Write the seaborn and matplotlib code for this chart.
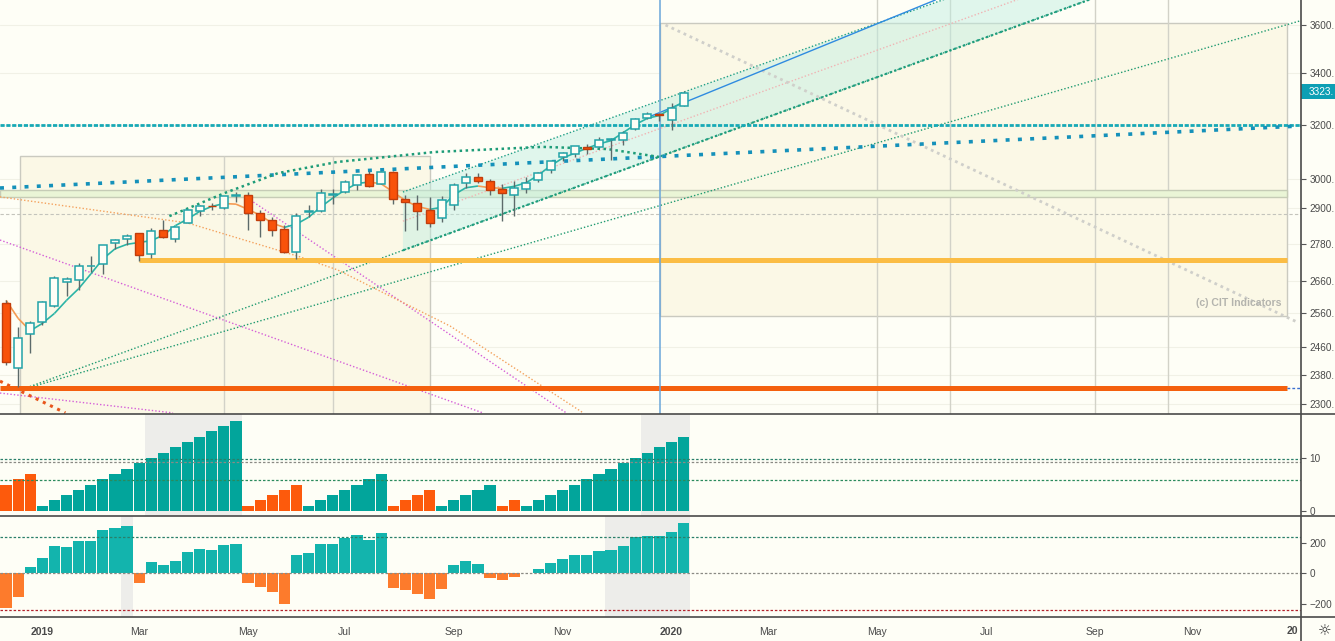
import numpy as np
import pandas as pd
import matplotlib
matplotlib.use("Agg")
import matplotlib.pyplot as plt
from matplotlib.patches import Rectangle, Polygon
from matplotlib.lines import Line2D
from matplotlib.collections import LineCollection
import seaborn as sns

# weekly candles, first bar = week of 2018-12-17, last = week of 2020-01-13
opens = [2590.8, 2400.6, 2498.9, 2535.6, 2582.1, 2657.4, 2663.2, 2706.0, 2712.4, 2780.7,
         2796.0, 2814.4, 2747.6, 2826.1, 2796.0, 2848.6, 2888.3, 2908.3, 2898.8, 2940.6,
         2945.0, 2881.0, 2859.5, 2830.0, 2751.5, 2885.8, 2889.8, 2944.0, 2955.0, 2979.8,
         3018.8, 2982.6, 3024.5, 2932.0, 2918.0, 2893.0, 2866.7, 2909.0, 2988.4, 3007.4,
         2992.0, 2967.0, 2944.2, 2965.8, 2996.5, 3032.1, 3079.0, 3089.3, 3117.9, 3117.4,
         3143.9, 3141.9, 3183.6, 3226.1, 3240.1, 3217.6, 3271.1]
highs = [2601.1, 2520.3, 2538.1, 2597.8, 2675.5, 2672.4, 2718.0, 2739.0, 2775.7, 2795.0,
         2813.5, 2816.9, 2830.7, 2860.3, 2836.0, 2893.4, 2910.5, 2916.1, 2940.0, 2954.1,
         2954.0, 2892.0, 2868.0, 2843.0, 2884.0, 2910.6, 2964.2, 2964.5, 2995.8, 3017.8,
         3028.0, 3028.0, 3028.0, 2945.5, 2943.3, 2939.1, 2940.4, 2985.9, 3022.0, 3022.6,
         2999.2, 2983.9, 2993.3, 3008.3, 3027.4, 3067.0, 3097.8, 3120.5, 3127.6, 3154.3,
         3150.6, 3176.3, 3225.7, 3247.9, 3244.7, 3283.0, 3329.9]
lows = [2408.6, 2346.6, 2444.0, 2524.6, 2580.3, 2612.9, 2631.0, 2687.0, 2681.8, 2764.0,
        2775.1, 2722.3, 2732.5, 2800.3, 2785.0, 2848.6, 2873.2, 2893.0, 2898.0, 2919.1,
        2825.4, 2801.4, 2805.5, 2750.5, 2728.8, 2868.8, 2887.3, 2912.0, 2952.0, 2963.4,
        2973.0, 2982.0, 2914.7, 2822.1, 2825.7, 2835.0, 2853.1, 2891.9, 2969.4, 2985.0,
        2946.0, 2855.9, 2873.3, 2952.9, 2991.2, 3023.2, 3065.9, 3078.8, 3091.4, 3113.9,
        3070.3, 3123.0, 3180.0, 3222.4, 3212.0, 3181.1, 3270.6]
closes = [2416.6, 2485.7, 2531.9, 2596.3, 2670.7, 2664.8, 2706.5, 2708.0, 2775.6, 2792.7,
          2804.0, 2743.1, 2822.5, 2800.7, 2834.4, 2892.7, 2907.4, 2905.0, 2939.9, 2945.6,
          2881.0, 2859.5, 2826.1, 2752.1, 2873.3, 2887.0, 2950.5, 2948.0, 2990.4, 3013.8,
          2976.6, 3025.9, 2932.1, 2918.7, 2888.7, 2847.1, 2926.5, 2978.7, 3007.4, 2992.1,
          2961.8, 2952.0, 2970.3, 2986.2, 3022.6, 3066.9, 3093.1, 3120.5, 3110.3, 3141.0,
          3145.9, 3168.8, 3221.2, 3240.0, 3234.9, 3265.4, 3323.0]
# short moving average
fast_ma = [2600, 2545, 2508, 2530, 2560, 2600, 2636, 2682, 2730, 2763,
           2778, 2784, 2790, 2808, 2840, 2862, 2888, 2905, 2915, 2913,
           2895, 2875, 2848, 2834, 2845, 2868, 2903, 2934, 2962, 2985,
           2990, 2984, 2955, 2925, 2905, 2895, 2902, 2945, 2970, 2976,
           2970, 2968, 2975, 2988, 3015, 3048, 3076, 3094, 3112, 3128,
           3140, 3170, 3200, 3224, 3235, 3262, 3288]
last_price = 3323

# indicator panels (sign = direction)
setup_count = [-5, -6, -7, 1, 2, 3, 4, 5, 6, 7, 8, 9, 10, 11, 12, 13, 14, 15, 16, 17,
               -1, -2, -3, -4, -5, 1, 2, 3, 4, 5, 6, 7, -1, -2, -3, -4, 1, 2, 3, 4, 5,
               -1, -2, 1, 2, 3, 4, 5, 6, 7, 8, 9, 10, 11, 12, 13, 14]
momentum = [-227, -155, 42, 100, 179, 173, 212, 212, 284, 297, 310, -61, 74, 55, 81, 140,
            160, 153, 186, 192, -61, -87, -120, -199, 120, 133, 192, 192, 234, 251, 219,
            264, -94, -107, -133, -166, -100, 55, 81, 61, -28, -42, -22, 0, 28, 68, 94,
            120, 120, 146, 153, 179, 238, 245, 245, 271, 330]
setup_shade = [(12, 19), (53, 56)]
momentum_shade = [(10, 10), (50, 56)]
setup_levels = [9.75, 9.2, 5.9]
momentum_levels = [236, 0, -243]

# drawing objects (bar index, price)
price_ticks = [2300, 2380, 2460, 2560, 2660, 2780, 2900, 3000, 3200, 3400, 3600]
level_3200 = 3200
green_band = (2938, 2962)
level_dashed = 2879
level_march_low = 2728
level_dec_low = 2343
slow_trend = [(-0.5, 2969), (107.0, 3195)]
arc_bars = [13.5, 18.1, 22.5, 27.4, 35.4, 44.3, 49.7, 54.0]
arc_prices = [2872, 2952, 3022, 3062, 3098, 3117, 3109, 3080]
curve_bars = [-0.5, 15.0, 24.3, 27.4, 36.7, 47.7]
curve_prices = [2938, 2849, 2737, 2695, 2522, 2276]
magenta_lines = [[(-0.5, 2792), (39.4, 2276)], [(20.2, 2927), (46.3, 2276)],
                 [(-0.5, 2330), (13.8, 2276)]]
red_dots = [(-0.5, 2363), (4.9, 2276)]
fan_start = (1.16, 2338)
fan_steep_end = (95.0, 3817)
fan_flat_end = (106.9, 3617)
channel_upper = [(32.8, 2955), (82.1, 3798)]
channel_span = (32.8, 95.0)
blue_ray = [(52.9, 3225), (76.8, 3708)]
fib_ray = [(54.5, 3600), (106.7, 2534)]
box1 = dict(x0=1.16, x1=35.0, top=3084, splits=[18.0, 27.0])
box2 = dict(x0=54.05, x1=105.9, bottom=2552, top=3608, splits=[72.0, 78.0, 90.0, 96.0])

W, H = 1335, 641
BG = "#fefef6"
BOX = "#fbf8e6"
TEAL = "#22a3a8"
RED = "#f8520a"
XMAX = 107.02

sns.set_style("white", {"axes.facecolor": BG, "figure.facecolor": BG})
plt.rcParams["font.family"] = ["Liberation Sans", "DejaVu Sans"]
plt.rcParams["font.size"] = 7.2


def loglin(p, q, b):
    (b0, v0), (b1, v1) = p, q
    return float(np.exp(np.log(v0) + (np.log(v1) - np.log(v0)) * (b - b0) / (b1 - b0)))


def px_axes(top, bottom):
    return [0, 1 - bottom / H, 1301 / W, (bottom - top) / H]


fig = plt.figure(figsize=(W / 100, H / 100), dpi=100)
ax = fig.add_axes(px_axes(0, 414))
ax1 = fig.add_axes(px_axes(414, 516))
ax2 = fig.add_axes(px_axes(516, 617))

# ---------------- main price panel ----------------
ax.set_yscale("log")
ax.set_ylim(2273, 3708)
ax.set_xlim(-0.5, XMAX)
for v in price_ticks:
    ax.axhline(v, color="#f1f1e6", lw=0.8, zorder=0.2)

ax.add_patch(Rectangle((box1["x0"], 2200), box1["x1"] - box1["x0"], box1["top"] - 2200,
                       fc=BOX, ec="#cacac0", lw=1, zorder=0.5))
ax.vlines(box1["splits"], 2200, box1["top"], color="#d2d2c8", lw=1, zorder=0.6)
ax.add_patch(Rectangle((box2["x0"], box2["bottom"]), box2["x1"] - box2["x0"],
                       box2["top"] - box2["bottom"], fc=BOX, ec="#cacac0", lw=1, zorder=0.5))
ax.vlines(box2["splits"], 2200, 3800, color="#d2d2c8", lw=1, zorder=0.6)
ax.axvline(box2["x0"], color="#6aa6da", lw=1.1, zorder=2.5)

ax.axhspan(*green_band, xmin=0, xmax=box2["x1"] / XMAX, fc="#eaf5d6", ec="#c6ccb6", lw=1, zorder=0.8)
ax.axhline(level_dashed, color="#c4c4bc", lw=0.8, ls=(0, (3, 2)), zorder=0.9)

# channel fill
x0c, x1c = channel_span
lo0, lo1 = loglin(fan_start, fan_steep_end, x0c), loglin(fan_start, fan_steep_end, x1c)
up0, up1 = loglin(*channel_upper, x0c), loglin(*channel_upper, x1c)
ax.add_patch(Polygon([(x0c, lo0), (x1c, lo1), (x1c, up1), (x0c, up0)], closed=True,
                     fc="#bdeee2", alpha=0.45, ec="none", zorder=1.2))
ax.plot([x0c, x1c], [np.sqrt(lo0 * up0), np.sqrt(lo1 * up1)], color="#f0b4b4", lw=1,
        ls=(0, (1, 1.5)), zorder=1.6)
ax.plot([x0c, x1c], [up0, up1], color="#1f9f86", lw=1, ls=(0, (1, 1.5)), zorder=1.7)
ax.plot([x0c, x1c], [lo0, lo1], color="#1f9f86", lw=1.6, ls=(0, (1, 1.2)), zorder=1.7)

ax.plot(*zip(fan_start, fan_steep_end), color="#1f9a70", lw=1, ls=(0, (1, 1.5)), zorder=1.7)
ax.plot(*zip(fan_start, fan_flat_end), color="#1f9a70", lw=1, ls=(0, (1, 1.5)), zorder=1.7)
for seg in magenta_lines:
    ax.plot(*zip(*seg), color="#d55fd8", lw=1, ls=(0, (1, 1.5)), zorder=1.7)
ax.plot(curve_bars, curve_prices, color="#f4a25e", lw=1, ls=(0, (1, 1.5)), zorder=1.7)
ax.plot(*zip(*red_dots), color="#e8561c", lw=2.2, ls=(0, (1, 1.6)), zorder=1.7)
ax.plot(*zip(*fib_ray), color="#cfcfca", lw=2, ls=(0, (1, 1.4)), zorder=1.7)
ax.plot(*zip(*blue_ray), color="#2f8be0", lw=1, zorder=2.2)

ax.hlines(level_march_low, 11, box2["x1"], color="#fbbd45", lw=3.6, zorder=1.9)
ax.hlines(level_dec_low, -0.5, box2["x1"], color="#f4600e", lw=3.6, zorder=1.9)
ax.hlines(level_dec_low, box2["x1"], XMAX, color="#3b6fd0", lw=1, ls=(0, (2, 1.5)), zorder=1.9)
ax.axhline(level_3200, color="#17a9b6", lw=2.0, ls=(0, (1.5, 0.6)), zorder=2)
ax.plot(*zip(*slow_trend), color="#1591ba", lw=2.6, ls=(0, (1.1, 2.3)), zorder=2)
ax.plot(arc_bars, arc_prices, color="#1e9c78", lw=1.8, ls=(0, (1, 1.4)), zorder=2)

# fast MA coloured by slope
bars = np.arange(len(closes))
segs, cols = [], []
for i in range(1, len(fast_ma)):
    segs.append([(bars[i - 1], fast_ma[i - 1]), (bars[i], fast_ma[i])])
    cols.append("#2cb4a6" if fast_ma[i] >= fast_ma[i - 1] else "#f59b54")
ax.add_collection(LineCollection(segs, colors=cols, lw=1.2, zorder=2.6))

# candles
o, h, l, c = map(np.asarray, (opens, highs, lows, closes))
up = c >= o
lo_body = np.minimum(o, c)
hgt = np.maximum(np.abs(c - o), lo_body * 0.0009)
ax.vlines(bars, l, h, color="#5c6a6a", lw=1, zorder=3)
ax.bar(bars[up], hgt[up], bottom=lo_body[up], width=0.66, fc=BG, ec=TEAL, lw=1.1, zorder=4)
ax.bar(bars[~up], hgt[~up], bottom=lo_body[~up], width=0.66, fc=RED, ec="#c23d0b", lw=1, zorder=4)

ax.text(105.4, 2592, "(c) CIT Indicators", ha="right", va="center", fontsize=7.6,
        fontweight="bold", color="#b4b4ae", zorder=5)

# ---------------- setup count panel ----------------
df1 = pd.DataFrame({"bar": bars, "count": np.abs(setup_count),
                    "side": np.where(np.asarray(setup_count) > 0, "up", "dn")})
for a, b in setup_shade:
    ax1.axvspan(a - 0.5, b + 0.5, color="#ededea", lw=0, zorder=0)
sns.barplot(data=df1, x="bar", y="count", hue="side", native_scale=True, dodge=False,
            palette={"up": "#02a59b", "dn": "#fd5a0c"}, width=0.92, saturation=1,
            errorbar=None, legend=False, linewidth=0, ax=ax1)
for v, col in zip(setup_levels, ["#2a7f6a", "#8a8a84", "#2a8a5c"]):
    ax1.axhline(v, color=col, lw=0.9, ls=(0, (2, 1.5)), zorder=3)
ax1.set_ylim(-0.94, 18.3)
ax1.set_yticks([0, 10])

# ---------------- momentum panel ----------------
df2 = pd.DataFrame({"bar": bars, "value": momentum,
                    "side": np.where(np.asarray(momentum) >= 0, "up", "dn")})
for a, b in momentum_shade:
    ax2.axvspan(a - 0.5, b + 0.5, color="#ededea", lw=0, zorder=0)
sns.barplot(data=df2, x="bar", y="value", hue="side", native_scale=True, dodge=False,
            palette={"up": "#13b4ad", "dn": "#fd7b2c"}, width=0.92, saturation=1,
            errorbar=None, legend=False, linewidth=0, ax=ax2)
for v, col in zip(momentum_levels, ["#2a7f6a", "#8a8a84", "#b3202a"]):
    ax2.axhline(v, color=col, lw=0.9, ls=(0, (2, 1.5)), zorder=3)
ax2.set_ylim(-287, 376)
ax2.set_yticks([-200, 0, 200])

# ---------------- axes cosmetics ----------------
weeks = pd.date_range("2018-12-17", periods=110, freq="W-MON")
first_bar = pd.Series(np.arange(len(weeks)), index=weeks).groupby([weeks.year, weeks.month]).first()
tick_pos, tick_lab = [], []
for (yr, mo), b in first_bar.items():
    if mo % 2 == 1 and b < XMAX - 0.5:
        tick_pos.append(b)
        tick_lab.append(str(yr) if mo == 1 else pd.Timestamp(yr, mo, 1).strftime("%b"))

for a in (ax, ax1, ax2):
    a.set_xlim(-0.5, XMAX)
    a.set_xlabel("")
    a.set_ylabel("")
    for s in a.spines.values():
        s.set_visible(False)
    a.yaxis.tick_right()
    a.tick_params(axis="y", length=3.6, width=0.8, color="#555555", pad=2.4,
                  labelsize=7.2, labelcolor="#4a4a4a")
ax.set_yticks(price_ticks)
# the price scale is cut by the window edge in the reference: "3600." etc.
ax.set_yticklabels([f"{v}." for v in price_ticks])
ax.yaxis.set_minor_locator(matplotlib.ticker.NullLocator())
ax.set_xticks([])
ax1.set_xticks([])
ax2.set_xticks(tick_pos)
ax2.set_xticklabels(tick_lab)
ax2.tick_params(axis="x", length=0, pad=7.5, labelsize=7.5, labelcolor="#4a4a4a")
for t in ax2.get_xticklabels():
    if t.get_text().isdigit():
        t.set_fontweight("bold")
# next year's label, only its first half visible before the price scale
fig.text(1298 / W, 1 - 631 / H, "20", fontsize=7.5, fontweight="bold", color="#4a4a4a",
         ha="right", va="center")

# panel borders and last price tag
for yy in (414, 516, 617):
    fig.add_artist(Line2D([0, 1], [1 - yy / H] * 2, color="#4a4a4a", lw=1.2))
fig.add_artist(Line2D([1301 / W] * 2, [0, 1], color="#4a4a4a", lw=1.2))
fig.add_artist(Rectangle((1301 / W, 1 - 99 / H), 34 / W, 15 / H, fc="#0d9fb4", ec="none",
                         transform=fig.transFigure))
fig.text(1309 / W, 1 - 92 / H, f"{last_price}.", color="white", fontsize=7.2,
         ha="left", va="center")
fig.text(1325 / W, 1 - 631 / H, "\u263c", fontsize=11, color="#333333", ha="center",
         va="center", family=["DejaVu Sans"])

fig.savefig("out.png", dpi=100, facecolor=BG)
